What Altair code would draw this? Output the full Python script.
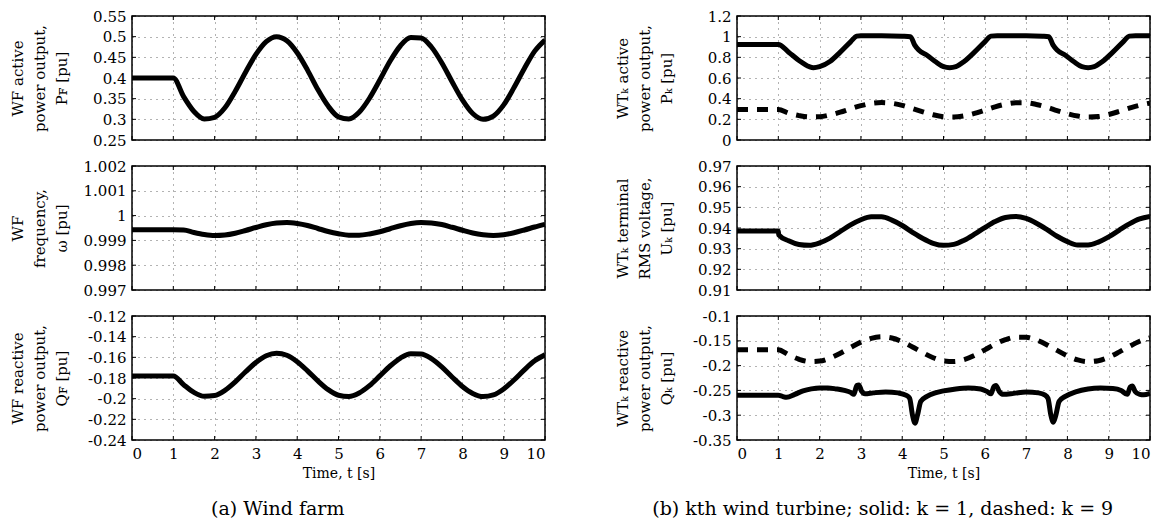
import altair as alt
import pandas as pd

FONT = "DejaVu Serif"

# common time grid (s)
T = [0.0, 0.25, 0.5, 0.75, 1.0, 1.25, 1.5, 1.75, 2.0, 2.25, 2.5, 2.75, 3.0, 3.25, 3.5, 3.75,
     4.0, 4.25, 4.5, 4.75, 5.0, 5.25, 5.5, 5.75, 6.0, 6.25, 6.5, 6.75, 7.0, 7.25, 7.5, 7.75,
     8.0, 8.25, 8.5, 8.75, 9.0, 9.25, 9.5, 9.75, 10.0]

# (a) wind farm
P_F = [0.4, 0.4, 0.4, 0.4, 0.4, 0.355, 0.319, 0.301, 0.305, 0.328, 0.368, 0.414, 0.457, 0.488,
       0.5, 0.490, 0.461, 0.419, 0.372, 0.332, 0.306, 0.301, 0.317, 0.351, 0.395, 0.441, 0.478,
       0.498, 0.497, 0.475, 0.437, 0.391, 0.347, 0.314, 0.300, 0.308, 0.335, 0.377, 0.423,
       0.465, 0.492]
OMEGA = [0.99943, 0.99943, 0.99943, 0.99943, 0.99943, 0.99942, 0.99932, 0.99924, 0.99920,
         0.99922, 0.99929, 0.99940, 0.99952, 0.99963, 0.99970, 0.99972, 0.99968, 0.99960,
         0.99948, 0.99936, 0.99927, 0.99921, 0.99921, 0.99926, 0.99935, 0.99947, 0.99959,
         0.99968, 0.99972, 0.99970, 0.99964, 0.99953, 0.99941, 0.99930, 0.99923, 0.99920,
         0.99923, 0.99931, 0.99942, 0.99954, 0.99965]
Q_F = [-0.178, -0.178, -0.178, -0.178, -0.178, -0.1865, -0.1939, -0.1977, -0.1970, -0.1920,
       -0.1838, -0.1740, -0.1650, -0.1585, -0.1560, -0.1580, -0.1642, -0.1731, -0.1828,
       -0.1913, -0.1967, -0.1979, -0.1945, -0.1874, -0.1780, -0.1684, -0.1607, -0.1565,
       -0.1567, -0.1613, -0.1693, -0.1790, -0.1882, -0.1950, -0.1980, -0.1964, -0.1906,
       -0.1819, -0.1721, -0.1634, -0.1576]

# (b) wind turbines
PK1_T = [0.0, 1.0, 1.25, 1.5, 1.75, 1.85, 2.0, 2.25, 2.5, 2.75, 2.9, 3.0, 3.5, 4.0, 4.2, 4.3,
         4.4, 4.6, 4.8, 5.0, 5.15, 5.3, 5.5, 5.75, 6.0, 6.15, 6.3, 7.0, 7.4, 7.55, 7.65, 7.75,
         7.95, 8.15, 8.35, 8.5, 8.65, 8.85, 9.1, 9.35, 9.5, 9.65, 10.0]
PK1 = [0.925, 0.925, 0.85, 0.77, 0.71, 0.70, 0.71, 0.76, 0.85, 0.95, 1.005, 1.01, 1.01, 1.005,
       1.0, 0.92, 0.87, 0.82, 0.76, 0.71, 0.70, 0.71, 0.76, 0.85, 0.95, 1.005, 1.01, 1.01,
       1.005, 1.0, 0.92, 0.87, 0.82, 0.76, 0.71, 0.70, 0.71, 0.76, 0.85, 0.95, 1.005, 1.01, 1.01]
PK9 = [0.295, 0.295, 0.295, 0.295, 0.295, 0.260, 0.236, 0.223, 0.225, 0.242, 0.269, 0.302,
       0.332, 0.354, 0.362, 0.355, 0.335, 0.305, 0.273, 0.244, 0.226, 0.222, 0.234, 0.257,
       0.289, 0.321, 0.346, 0.360, 0.360, 0.344, 0.318, 0.285, 0.255, 0.232, 0.222, 0.227,
       0.247, 0.276, 0.308, 0.337, 0.357]
UK1_T = [0.0, 0.25, 0.5, 0.75, 1.0, 1.01, 1.25, 1.5, 1.75, 2.0, 2.25, 2.5, 2.75, 3.0, 3.25,
         3.5, 3.75, 4.0, 4.25, 4.5, 4.75, 5.0, 5.25, 5.5, 5.75, 6.0, 6.25, 6.5, 6.75, 7.0,
         7.25, 7.5, 7.75, 8.0, 8.25, 8.5, 8.75, 9.0, 9.25, 9.5, 9.75, 10.0]
UK1 = [0.9386, 0.9386, 0.9386, 0.9386, 0.9386, 0.9367, 0.9338, 0.9320, 0.9316, 0.9328,
       0.9351, 0.9383, 0.9415, 0.9440, 0.9454, 0.9454, 0.9438, 0.9412, 0.9379, 0.9349,
       0.9326, 0.9316, 0.9321, 0.9341, 0.9370, 0.9402, 0.9431, 0.9451, 0.9456, 0.9446,
       0.9423, 0.9393, 0.9360, 0.9334, 0.9318, 0.9318, 0.9332, 0.9357, 0.9389, 0.9420,
       0.9444, 0.9456]
QK9 = [-0.168, -0.168, -0.168, -0.168, -0.168, -0.1783, -0.1872, -0.1917, -0.1909, -0.1849,
       -0.1751, -0.1635, -0.1527, -0.1450, -0.1420, -0.1444, -0.1518, -0.1624, -0.1739,
       -0.1841, -0.1905, -0.1918, -0.1878, -0.1794, -0.1682, -0.1568, -0.1476, -0.1426,
       -0.1428, -0.1483, -0.1578, -0.1694, -0.1803, -0.1885, -0.1920, -0.1901, -0.1832,
       -0.1728, -0.1612, -0.1508, -0.1440]
QK1_T = [0.0, 0.5, 1.0, 1.1, 1.2, 1.4, 1.6, 1.8, 2.0, 2.2, 2.4, 2.6, 2.75, 2.83, 2.9, 2.95,
         3.02, 3.1, 3.3, 3.6, 3.9, 4.1, 4.18, 4.25, 4.31, 4.37, 4.45, 4.6, 4.8, 5.0, 5.3, 5.6,
         5.9, 6.05, 6.15, 6.22, 6.27, 6.35, 6.45, 6.7, 7.0, 7.3, 7.45, 7.53, 7.6, 7.66, 7.72,
         7.8, 7.95, 8.2, 8.5, 8.8, 9.1, 9.3, 9.45, 9.52, 9.57, 9.64, 9.75, 9.85, 10.0]
QK1 = [-0.260, -0.260, -0.260, -0.262, -0.264, -0.258, -0.251, -0.247, -0.245, -0.245, -0.247,
       -0.250, -0.254, -0.258, -0.240, -0.239, -0.252, -0.257, -0.255, -0.253, -0.255, -0.260,
       -0.266, -0.300, -0.316, -0.300, -0.272, -0.262, -0.255, -0.251, -0.247, -0.245, -0.247,
       -0.252, -0.257, -0.242, -0.240, -0.252, -0.258, -0.256, -0.253, -0.255, -0.259, -0.266,
       -0.300, -0.314, -0.300, -0.272, -0.262, -0.253, -0.247, -0.245, -0.246, -0.250, -0.258,
       -0.243, -0.241, -0.252, -0.258, -0.259, -0.256]

X_TICKS = [0, 1, 2, 3, 4, 5, 6, 7, 8, 9, 10]

YA1 = [0.25, 0.3, 0.35, 0.4, 0.45, 0.5, 0.55]
YA2 = [0.997, 0.998, 0.999, 1, 1.001, 1.002]
YA3 = [-0.24, -0.22, -0.2, -0.18, -0.16, -0.14, -0.12]
YB1 = [0, 0.2, 0.4, 0.6, 0.8, 1, 1.2]
YB2 = [0.91, 0.92, 0.93, 0.94, 0.95, 0.96, 0.97]
YB3 = [-0.35, -0.3, -0.25, -0.2, -0.15, -0.1]

W, H = 413, 124
TK = 4  # inward tick length


def panel(series, ydom, yticks, ytitle, show_x):
    """series: list of (times, values, dashed)"""
    xs = alt.Scale(domain=[0, 10], nice=False, zero=False)
    ys = alt.Scale(domain=ydom, nice=False, zero=False)
    if show_x:
        x_axis = alt.Axis(values=X_TICKS, title="Time, t [s]", labelPadding=6, titlePadding=5,
                          titleFontSize=14)
    else:
        x_axis = alt.Axis(values=X_TICKS, labels=False, title=None, labelPadding=0,
                          titlePadding=0, minExtent=0, maxExtent=0, offset=0)
    y_axis = alt.Axis(values=yticks, title=ytitle, labelExpr="'' + datum.value",
                      minExtent=40, maxExtent=40, labelPadding=6, titlePadding=23,
                      titleLineHeight=22)
    X = alt.X("t:Q", scale=xs, axis=x_axis)
    Y = alt.Y("v:Q", scale=ys, axis=y_axis)

    layers = []
    for times, vals, dashed in series:
        df = pd.DataFrame({"t": times, "v": vals})
        props = dict(stroke="black", strokeWidth=5, interpolate="monotone", clip=True)
        if dashed:
            props["strokeDash"] = [11, 9]
        layers.append(alt.Chart(df).mark_line(**props).encode(x=X, y=Y))

    xdf = pd.DataFrame({"t": X_TICKS})
    ydf = pd.DataFrame({"v": yticks})
    rule = dict(stroke="black", strokeWidth=1)
    layers += [
        alt.Chart(xdf).mark_rule(**rule).encode(x=X, y=alt.value(0), y2=alt.value(TK)),
        alt.Chart(xdf).mark_rule(**rule).encode(x=X, y=alt.value(H - TK), y2=alt.value(H)),
        alt.Chart(ydf).mark_rule(**rule).encode(y=Y, x=alt.value(0), x2=alt.value(TK)),
        alt.Chart(ydf).mark_rule(**rule).encode(y=Y, x=alt.value(W - TK), x2=alt.value(W)),
    ]
    return alt.layer(*layers).properties(width=W, height=H)


a1 = panel([(T, P_F, False)], [0.25, 0.55], YA1, ["WF active", "power output,", "Pꜰ [pu]"], False)
a2 = panel([(T, OMEGA, False)], [0.997, 1.002], YA2, ["WF", "frequency,", "ω [pu]"], False)
a3 = panel([(T, Q_F, False)], [-0.24, -0.12], YA3, ["WF reactive", "power output,", "Qꜰ [pu]"], True)

b1 = panel([(PK1_T, PK1, False), (T, PK9, True)], [0, 1.2], YB1,
           ["WTₖ active", "power output,", "Pₖ [pu]"], False)
b2 = panel([(UK1_T, UK1, False)], [0.91, 0.97], YB2,
           ["WTₖ terminal", "RMS voltage,", "Uₖ [pu]"], False)
b3 = panel([(QK1_T, QK1, False), (T, QK9, True)], [-0.35, -0.1], YB3,
           ["WTₖ reactive", "power output,", "Qₖ [pu]"], True)

cap = dict(orient="bottom", anchor="middle", font=FONT, fontSize=19, fontWeight="normal",
           color="black", offset=19)
left = alt.vconcat(a1, a2, a3, spacing=9).properties(
    title=alt.TitleParams("(a) Wind farm", **cap))
right = alt.vconcat(b1, b2, b3, spacing=9).properties(
    title=alt.TitleParams("(b) kth wind turbine; solid: k = 1, dashed: k = 9", **cap))

chart = alt.hconcat(left, right, spacing=67).properties(
    padding={"left": 9, "top": 8, "right": 5, "bottom": 3},
    background="white",
).configure_view(
    stroke="black", strokeWidth=1.5
).configure_axis(
    labelFont=FONT, labelFontSize=15, labelColor="black",
    titleFont=FONT, titleFontSize=15, titleFontWeight="normal", titleColor="black",
    grid=True, gridDash=[1, 5], gridColor="black", gridOpacity=0.6, gridWidth=1,
    domain=False, ticks=False,
)

chart.save("out.html", embed_options={"renderer": "svg", "actions": False})
